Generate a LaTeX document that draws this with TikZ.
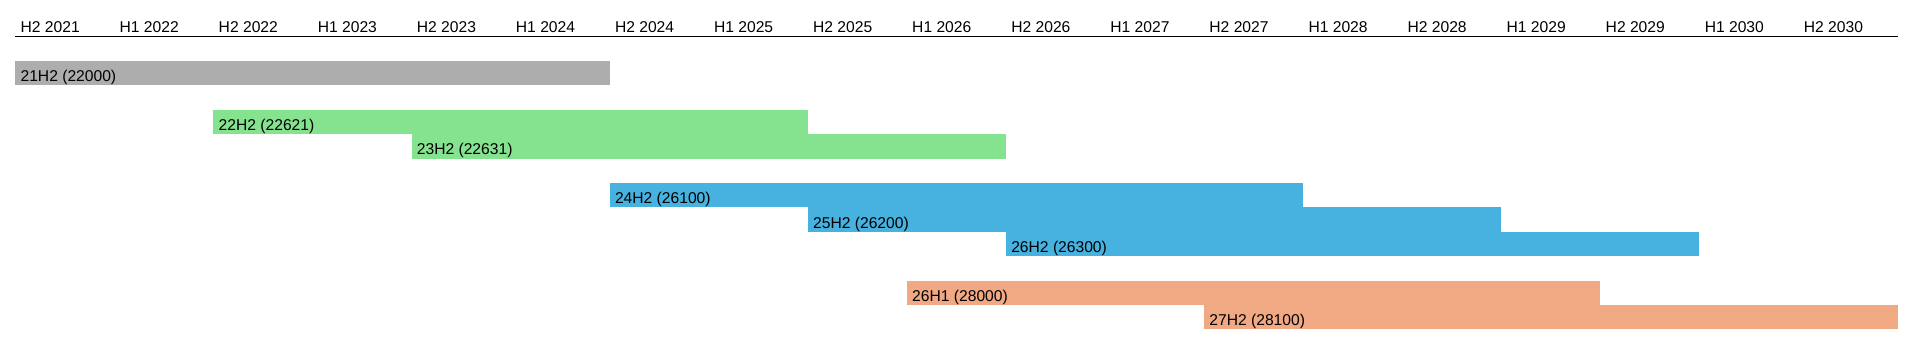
\documentclass[tikz,border=0pt]{standalone}
\usepackage{fontspec}
\setmainfont{Liberation Sans}
\definecolor{relgray}{RGB}{173,173,173}
\definecolor{relgreen}{RGB}{133,226,142}
\definecolor{relblue}{RGB}{71,178,224}
\definecolor{relorange}{RGB}{241,169,132}
\begin{document}
\begin{tikzpicture}[x=1.9814cm,y=-0.488cm,font=\fontsize{8.9}{10.7}\selectfont]
\tikzset{lbl/.style={anchor=base west,inner sep=0pt}}
\useasboundingbox (-0.1544,-2.5) rectangle (19.206,12.172);
% ---- time axis: half years H2 2021 ... H2 2030 ----
\coordinate (ax0) at (0,-1);
\coordinate (ax1) at (19,-1);
\draw[line width=1pt] (ax0) -- (ax1);
\foreach \i in {0,...,18}{
  \pgfmathtruncatemacro\half{2-mod(\i,2)}
  \pgfmathtruncatemacro\yr{2021+int((\i+1)/2)}
  \node[lbl] (h\i) at (\i+0.05,-1.18) {H\half\ \yr};
}
% ---- releases: start/end column, row, colour, label ----
\foreach \a/\b/\r/\c/\t in {0/6/0/relgray/21H2 (22000),
    2/8/2/relgreen/22H2 (22621), 4/10/3/relgreen/23H2 (22631),
    6/13/5/relblue/24H2 (26100), 8/15/6/relblue/25H2 (26200),
    10/17/7/relblue/26H2 (26300),
    9/16/9/relorange/26H1 (28000), 12/19/10/relorange/27H2 (28100)}{
  \fill[\c] (\a,\r) rectangle (\b,\r+1);
  \node[lbl] (rel\r) at (\a+0.05,\r+0.85) {\t};
}
\end{tikzpicture}
\end{document}
